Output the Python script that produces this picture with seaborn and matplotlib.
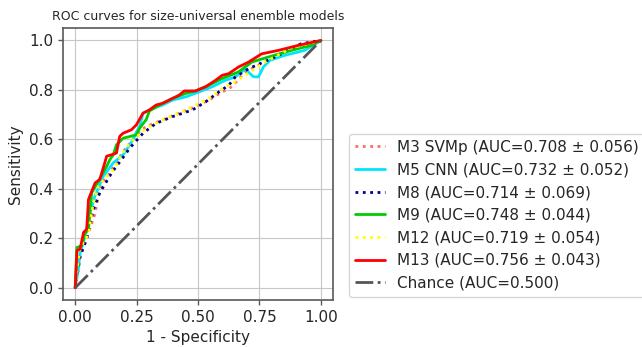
import numpy as np
import pandas as pd
import matplotlib
matplotlib.use("Agg")
import matplotlib.pyplot as plt
import seaborn as sns

# Mean ROC curves (false positive rate, true positive rate) per model
m3_fpr = [0, 0.02, 0.04, 0.08, 0.094, 0.114, 0.141, 0.195, 0.235, 0.262, 0.289, 0.356, 0.423, 0.49, 0.544, 0.598, 0.638, 0.692, 0.80, 0.907, 1.0]
m3_tpr = [0, 0.12, 0.183, 0.297, 0.37, 0.43, 0.464, 0.551, 0.598, 0.632, 0.652, 0.679, 0.706, 0.732, 0.759, 0.792, 0.813, 0.873, 0.926, 0.98, 1.0]

m5_fpr = [0, 0.013, 0.02, 0.04, 0.06, 0.08, 0.114, 0.155, 0.195, 0.235, 0.249, 0.262, 0.276, 0.316, 0.356, 0.396, 0.45, 0.504, 0.558, 0.611, 0.652, 0.692, 0.726, 0.746, 0.766, 0.793, 0.853, 0.934, 1.0]
m5_tpr = [0, 0.076, 0.14, 0.21, 0.304, 0.37, 0.451, 0.505, 0.538, 0.598, 0.63, 0.652, 0.706, 0.726, 0.739, 0.759, 0.772, 0.792, 0.813, 0.839, 0.853, 0.884, 0.853, 0.853, 0.893, 0.92, 0.94, 0.96, 1.0]

m8_fpr = [0, 0.02, 0.047, 0.074, 0.1, 0.148, 0.208, 0.222, 0.276, 0.329, 0.396, 0.477, 0.531, 0.585, 0.625, 0.652, 0.706, 0.813, 0.92, 1.0]
m8_tpr = [0, 0.13, 0.197, 0.317, 0.384, 0.464, 0.545, 0.565, 0.625, 0.665, 0.692, 0.719, 0.752, 0.792, 0.819, 0.853, 0.886, 0.933, 0.987, 1.0]

m9_fpr = [0, 0.007, 0.027, 0.04, 0.054, 0.067, 0.094, 0.128, 0.141, 0.155, 0.168, 0.195, 0.249, 0.262, 0.289, 0.302, 0.356, 0.396, 0.45, 0.49, 0.544, 0.598, 0.665, 0.719, 0.786, 0.88, 0.96, 1.0]
m9_tpr = [0, 0.163, 0.17, 0.22, 0.235, 0.384, 0.43, 0.491, 0.518, 0.538, 0.578, 0.605, 0.618, 0.645, 0.68, 0.715, 0.746, 0.766, 0.786, 0.796, 0.819, 0.846, 0.873, 0.913, 0.933, 0.96, 0.98, 1.0]

m12_fpr = [0, 0.02, 0.054, 0.074, 0.094, 0.161, 0.188, 0.222, 0.289, 0.356, 0.423, 0.477, 0.544, 0.611, 0.652, 0.773, 0.88, 1.0]
m12_tpr = [0, 0.16, 0.217, 0.345, 0.41, 0.484, 0.538, 0.585, 0.645, 0.679, 0.706, 0.732, 0.766, 0.813, 0.833, 0.913, 0.97, 1.0]

m13_fpr = [0, 0.007, 0.02, 0.034, 0.047, 0.054, 0.067, 0.081, 0.1, 0.114, 0.128, 0.148, 0.168, 0.181, 0.195, 0.229, 0.249, 0.276, 0.302, 0.329, 0.356, 0.383, 0.423, 0.444, 0.49, 0.531, 0.571, 0.598, 0.625, 0.665, 0.706, 0.759, 0.827, 0.907, 1.0]
m13_tpr = [0, 0.15, 0.157, 0.224, 0.237, 0.357, 0.39, 0.424, 0.438, 0.484, 0.532, 0.538, 0.545, 0.612, 0.625, 0.639, 0.659, 0.706, 0.719, 0.739, 0.746, 0.759, 0.779, 0.796, 0.796, 0.813, 0.839, 0.859, 0.866, 0.893, 0.913, 0.946, 0.96, 0.98, 1.0]

chance = [0.0, 1.0]

labels = [
    "M3 SVMp (AUC=0.708 ± 0.056)",
    "M5 CNN (AUC=0.732 ± 0.052)",
    "M8 (AUC=0.714 ± 0.069)",
    "M9 (AUC=0.748 ± 0.044)",
    "M12 (AUC=0.719 ± 0.054)",
    "M13 (AUC=0.756 ± 0.043)",
    "Chance (AUC=0.500)",
]

sns.set_style("whitegrid", {
    "axes.edgecolor": "0.35",
    "grid.color": "0.78",
    "xtick.bottom": True,
    "ytick.left": True,
})
plt.rcParams["font.family"] = ["DejaVu Sans"]

fig = plt.figure(figsize=(6.42, 3.47), dpi=100)
ax = fig.add_axes([0.098, 0.135, 0.421, 0.784])

curves = [
    (m3_fpr, m3_tpr, "#ff6b6b", ":"),
    (m5_fpr, m5_tpr, "#00e5ff", "-"),
    (m8_fpr, m8_tpr, "#00008b", ":"),
    (m9_fpr, m9_tpr, "#00cc00", "-"),
    (m12_fpr, m12_tpr, "#ffff00", ":"),
    (m13_fpr, m13_tpr, "#ff0000", "-"),
]
for (fpr, tpr, color, ls), lab in zip(curves, labels):
    df = pd.DataFrame({"fpr": fpr, "tpr": tpr})
    sns.lineplot(data=df, x="fpr", y="tpr", ax=ax, color=color, linestyle=ls,
                 linewidth=2, label=lab, sort=False, estimator=None)

sns.lineplot(x=chance, y=chance, ax=ax, color="#555555", linestyle="-.",
             linewidth=2, label=labels[-1], estimator=None)

ax.set_xlim(-0.05, 1.05)
ax.set_ylim(-0.05, 1.05)
ax.set_xticks([0, 0.25, 0.5, 0.75, 1.0])
ax.set_xticklabels(["0.00", "0.25", "0.50", "0.75", "1.00"])
ax.set_yticks([0, 0.2, 0.4, 0.6, 0.8, 1.0])
ax.set_yticklabels(["0.0", "0.2", "0.4", "0.6", "0.8", "1.0"])
ax.tick_params(labelsize=11, length=3.5, width=1, color="0.35")
ax.set_xlabel("1 - Specificity", fontsize=11)
ax.set_ylabel("Sensitivity", fontsize=11)
ax.set_title("ROC curves for size-universal enemble models", fontsize=9)
for s in ax.spines.values():
    s.set_linewidth(1.2)

ax.legend(loc="center left", bbox_to_anchor=(0.543, 0.38),
          bbox_transform=fig.transFigure, fontsize=11, frameon=True,
          borderaxespad=0, handlelength=2)

fig.savefig("out.png", dpi=100)
